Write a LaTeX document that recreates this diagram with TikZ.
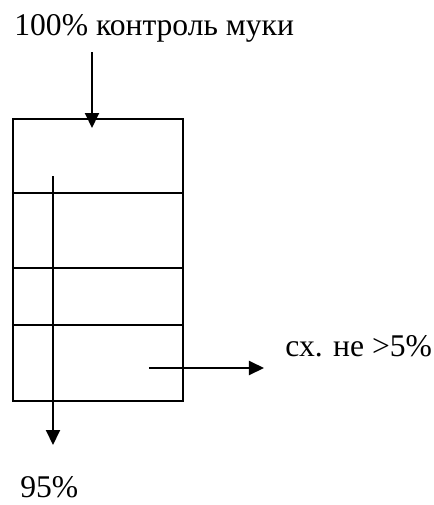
\documentclass[tikz,border=0pt]{standalone}
\usepackage{fontspec}
\setmainfont{Liberation Serif}
\usepackage{tikz}
\usetikzlibrary{positioning, arrows.meta}

\begin{document}
\begin{tikzpicture}[x=0.5pt, y=-0.5pt]
    % Stili per frecce e etichette
    \tikzset{
        flow/.style={
            line width=1pt,
            -{Triangle[length=7.5pt, width=7pt]}
        },
        frame/.style={
            line width=1pt
        },
        label/.style={
            inner sep=0pt,
            anchor=base west,
            font=\fontsize{15.8}{19}\selectfont
        }
    }
    \useasboundingbox (0,0) rectangle (434,505);

    % --- Setaccio (rettangolo con i piani) ---
    \node[frame, draw, rectangle, minimum width=85pt, minimum height=141pt,
        inner sep=0pt, anchor=north west] (sieve) at (12,118) {};
    \foreach \y in {193, 268, 325} {
        \draw[frame] (sieve.west |- 0,\y) -- (sieve.east |- 0,\y);
    }

    % Etichette
    \node[label] (flour) at (14,35) {100\% контроль муки};
    \node[label] (pass) at (20,497) {95\%};
    \node[label] (tails) at (285,356) {сх. не >5\%};

    % --- Frecce ---
    \coordinate (inStart) at (92,52);
    \coordinate (inEnd) at (92,128);
    \draw[flow] (inStart) -- (inEnd);

    \coordinate (passStart) at (53,176);
    \coordinate (passEnd) at (53,445);
    \draw[flow] (passStart) -- (passEnd);

    \coordinate (tailStart) at (149,368);
    \coordinate (tailEnd) at (264,368);
    \draw[flow] (tailStart) -- (tailEnd);
\end{tikzpicture}
\end{document}
